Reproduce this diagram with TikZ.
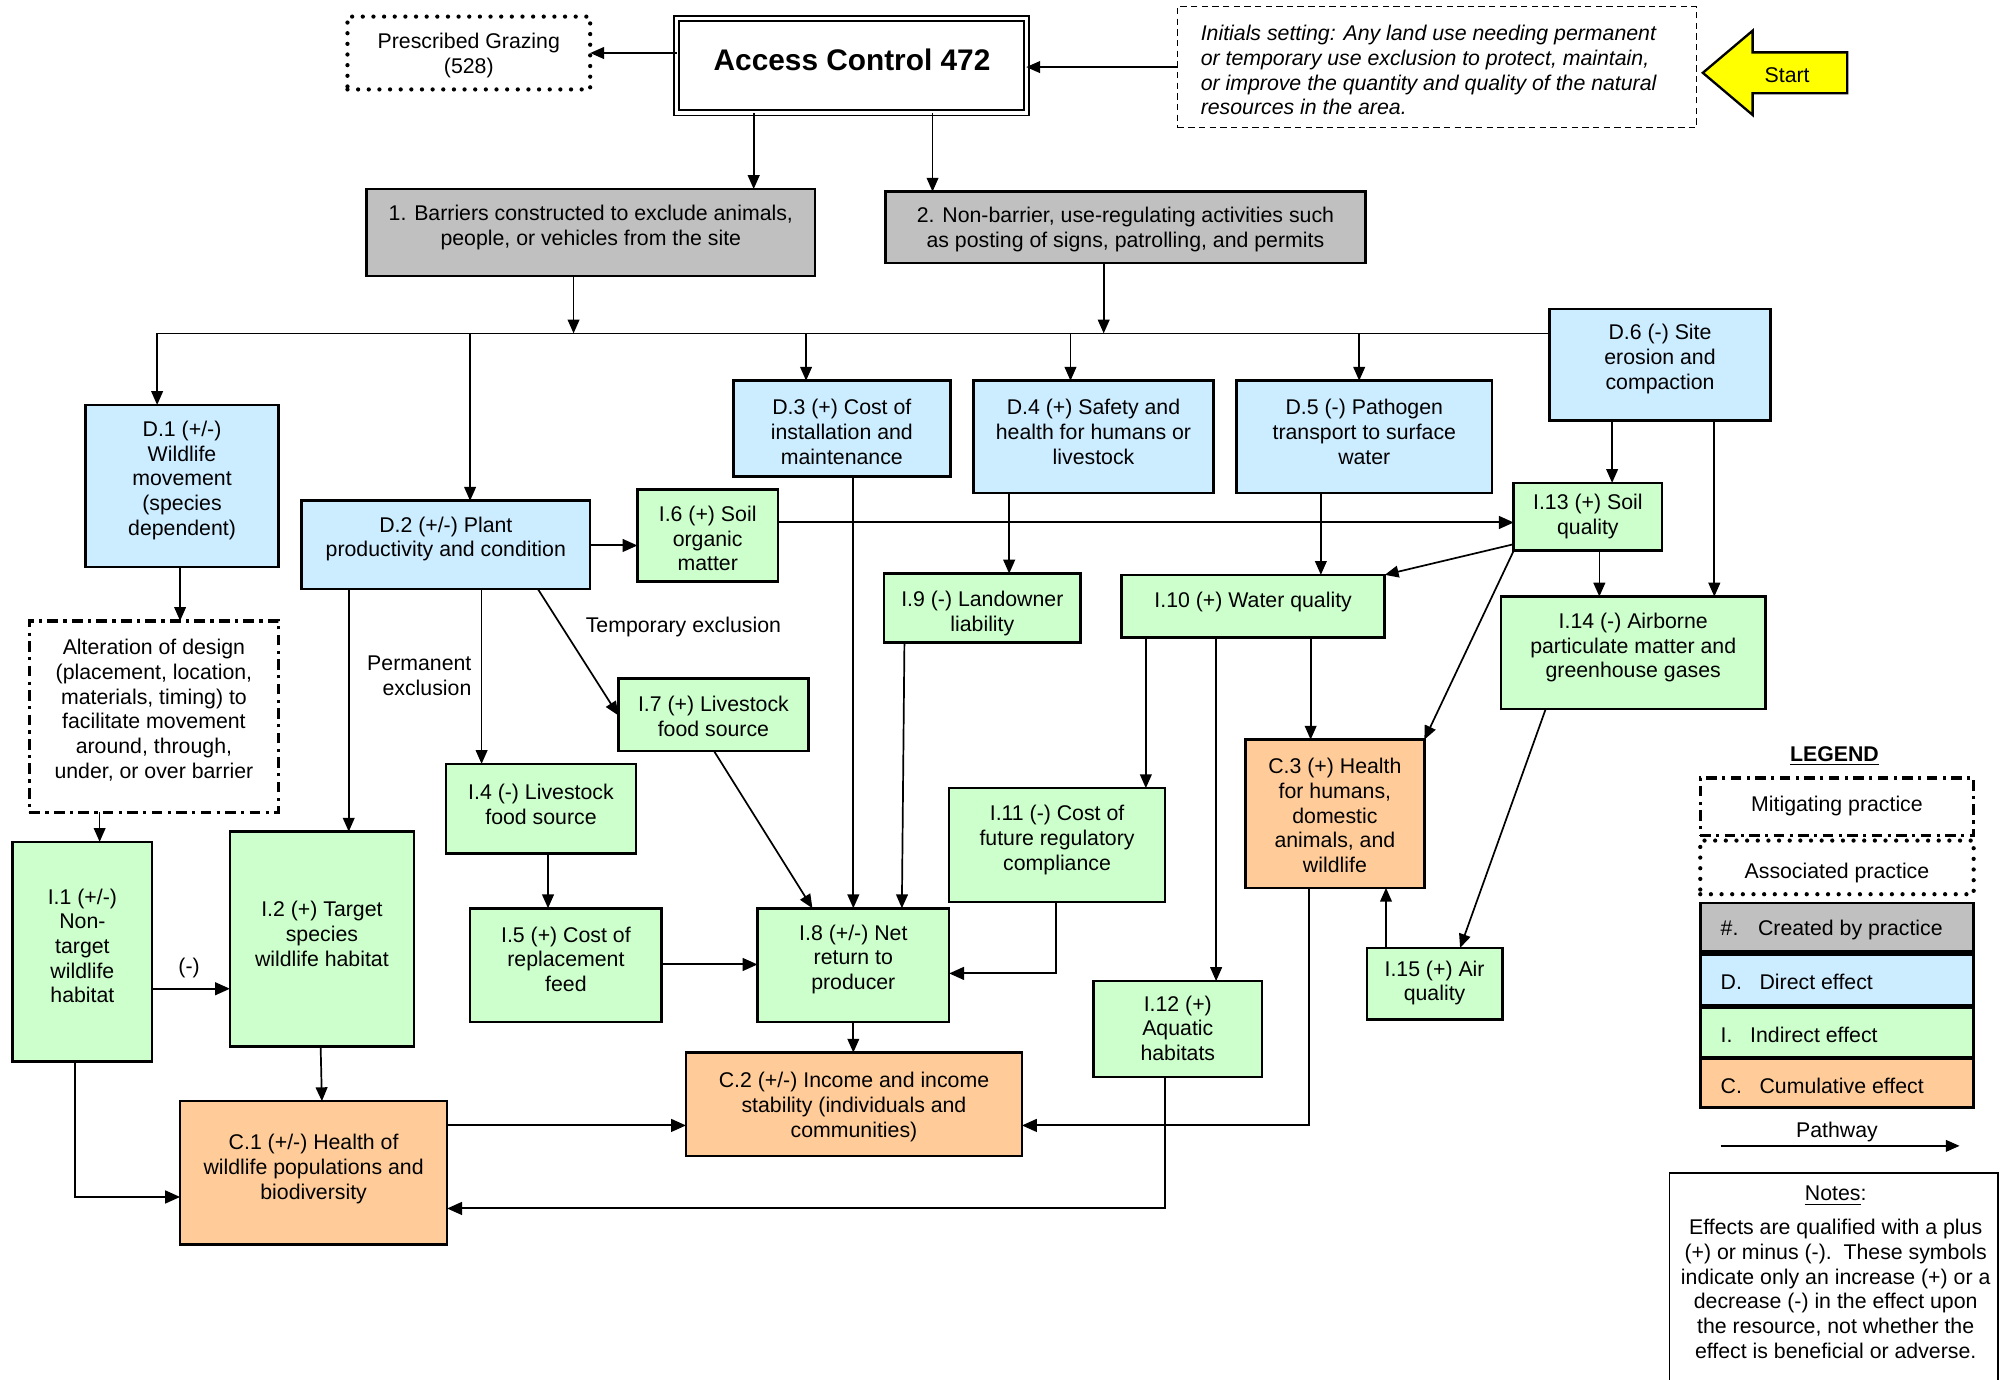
\documentclass[tikz,border=0pt]{standalone}
\usepackage{fontspec}
\setmainfont{Liberation Sans}
\usetikzlibrary{arrows.meta}

\definecolor{createdgrey}{HTML}{C0C0C0}
\definecolor{directblue}{HTML}{CCECFF}
\definecolor{indirectgreen}{HTML}{CCFFCC}
\definecolor{cumulorange}{HTML}{FFCC99}
\definecolor{startyellow}{HTML}{FFFF00}

\tikzset{
  every node/.style={font=\fontsize{10}{11.6}\selectfont, inner sep=0pt, outer sep=0pt},
  box/.style={draw, line width=1.2pt},
  created/.style={box, fill=createdgrey},
  direct/.style={box, fill=directblue},
  indirect/.style={box, fill=indirectgreen},
  cumul/.style={box, fill=cumulorange},
  mitig/.style={draw, line width=1.6pt, dash pattern=on 5pt off 2.5pt on 1.5pt off 2.5pt},
  assoc/.style={draw, line width=2pt, line cap=round, dash pattern=on 0pt off 5pt},
  initbox/.style={draw, line width=0.6pt, dash pattern=on 3pt off 2pt},
  lower/.style={yshift=-1.2pt},
  txt/.style={align=center, lower},
  conn/.style={line width=0.8pt},
  arr/.style={conn, -{Triangle[length=6.5pt,width=5.5pt]}},
  arrbig/.style={line width=0.95pt, -{Triangle[length=7pt,width=6pt]}},
}

% box node from its corners, with its text block centred at a given height
\newcommand{\ebox}[8]{%
  \node[#2, minimum width={(#5-#3)*0.6pt}, minimum height={(#6-#4)*0.6pt}]
    (#1) at ({(#3+#5)/2},{(#4+#6)/2}) {};
  \node[txt] (#1t) at ({(#3+#5)/2},#7) {#8};}

% legend swatch with a left-aligned caption
\newcommand{\lbox}[5]{%
  \node[#2, minimum width={214*0.6pt}, minimum height={(#4-#3)*0.6pt}]
    (#1) at (1438,{(#3+#4)/2}) {};
  \node[anchor=west, lower] (#1t) at (1347,{(#3+#4)/2}) {#5};}

\begin{document}
\begin{tikzpicture}[x=0.6pt,y=-0.6pt]
\useasboundingbox (0,0) rectangle (1568,1080);

% ---------- top row ----------
\ebox{pg}{assoc}{272}{13}{462}{70}{41.5}{Prescribed Grazing\\(528)}
\node[draw, line width=0.8pt, double, double distance=1.6pt,
      minimum width={273.7*0.6pt}, minimum height={73.7*0.6pt}] (ac) at (666.5,51.5) {};
\node[font=\fontsize{14}{16.8}\selectfont\bfseries] (act) at (667,46.5) {Access Control 472};
\node[initbox, minimum width={406*0.6pt}, minimum height={95*0.6pt}] (init) at (1125,52.5) {};
\node[align=left, anchor=west, lower, font=\fontsize{10}{11.6}\selectfont\itshape] (initt) at (940,53)
  {Initials setting: Any land use needing permanent\\
   or temporary use exclusion to protect, maintain,\\
   or improve the quantity and quality of the natural\\
   resources in the area.};
\draw[fill=startyellow, line width=1.1pt]
  (1333,57) -- (1372,24) -- (1372,41) -- (1446,41) -- (1446,73) -- (1372,73) -- (1372,90) -- cycle;
\node[lower] (start) at (1399,57) {Start};

% ---------- practice components ----------
\ebox{b1}{created}{287}{148}{638}{216}{176}{1. Barriers constructed to exclude animals,\\people, or vehicles from the site}
\ebox{b2}{created}{693}{150}{1069}{206}{177.5}{2. Non-barrier, use-regulating activities such\\as posting of signs, patrolling, and permits}

% ---------- direct effects ----------
\ebox{d1}{direct}{67}{317}{218}{444}{374}{D.1 (+/-)\\Wildlife\\movement\\(species\\dependent)}
\ebox{d2}{direct}{236}{392}{462}{461}{420}{D.2 (+/-) Plant\\productivity and condition}
\ebox{d3}{direct}{574}{298}{744}{373}{336}{D.3 (+) Cost of\\installation and\\maintenance}
\ebox{d4}{direct}{762}{298}{950}{386}{336}{D.4 (+) Safety and\\health for humans or\\livestock}
\ebox{d5}{direct}{968}{298}{1168}{386}{336}{D.5 (-) Pathogen\\transport to surface\\water}
\ebox{d6}{direct}{1213}{242}{1386}{329}{279}{D.6 (-) Site\\erosion and\\compaction}

% ---------- mitigating practice ----------
\ebox{mit}{mitig}{23}{486}{218}{636}{554}{Alteration of design\\(placement, location,\\materials, timing) to\\facilitate movement\\around, through,\\under, or over barrier}

% ---------- indirect effects ----------
\ebox{i1}{indirect}{10}{659}{119}{831}{738.5}{I.1 (+/-)\\Non-\\target\\wildlife\\habitat}
\ebox{i2}{indirect}{180}{651}{324}{819}{729}{I.2 (+) Target\\species\\wildlife habitat}
\ebox{i4}{indirect}{349}{598}{498}{668}{627.5}{I.4 (-) Livestock\\food source}
\ebox{i5}{indirect}{368}{711}{518}{800}{749}{I.5 (+) Cost of\\replacement\\feed}
\ebox{i6}{indirect}{499}{383}{609}{455}{419.5}{I.6 (+) Soil\\organic\\matter}
\ebox{i7}{indirect}{484}{531}{633}{588}{559}{I.7 (+) Livestock\\food source}
\ebox{i8}{indirect}{593}{711}{743}{800}{749}{I.8 (+/-) Net\\return to\\producer}
\ebox{i9}{indirect}{692}{449}{846}{503}{478}{I.9 (-) Landowner\\liability}
\ebox{i10}{indirect}{878}{450}{1084}{499}{469}{I.10 (+) Water quality}
\ebox{i11}{indirect}{743}{617}{912}{706}{655.5}{I.11 (-) Cost of\\future regulatory\\compliance}
\ebox{i12}{indirect}{856}{768}{988}{843}{803}{I.12 (+)\\Aquatic\\habitats}
\ebox{i13}{indirect}{1185}{378}{1301}{431}{402.5}{I.13 (+) Soil\\quality}
\ebox{i14}{indirect}{1175}{467}{1382}{555}{505}{I.14 (-) Airborne\\particulate matter and\\greenhouse gases}
\ebox{i15}{indirect}{1070}{742}{1176}{798}{767.5}{I.15 (+) Air\\quality}

% ---------- cumulative effects ----------
\ebox{c1}{cumul}{141}{862}{350}{974}{913}{C.1 (+/-) Health of\\wildlife populations and\\biodiversity}
\ebox{c2}{cumul}{537}{824}{800}{905}{864.5}{C.2 (+/-) Income and income\\stability (individuals and\\communities)}
\ebox{c3}{cumul}{975}{579}{1115}{695}{636.5}{C.3 (+) Health\\for humans,\\domestic\\animals, and\\wildlife}

% ---------- pathway labels ----------
\node[align=right, anchor=east, lower] (perm) at (369,527) {Permanent\\exclusion};
\node[lower] (temp) at (535,489) {Temporary exclusion};
\node[lower] (neg) at (148,756) {(-)};

% ---------- connectors ----------
\draw[arr] (init.west) -- (init.west -| ac.east);
\draw[arr] (ac.west |- pg.east) -- (pg.east);
\draw[arr] (ac.south -| 590,0) -- (b1.north -| 590,0);
\draw[arr] (ac.south -| 730,0) -- (b2.north -| 730,0);

\coordinate (busL) at (123,261);
\coordinate (j1) at (449,261);
\coordinate (j2) at (864,261);
\coordinate (bd2) at (368,261);
\coordinate (bd3) at (631,261);
\coordinate (bd4) at (838,261);
\coordinate (bd5) at (1064,261);
\draw[arr] (b1.south -| j1) -- (j1);
\draw[arr] (b2.south -| j2) -- (j2);
\draw[conn] (busL) -- (busL -| d6.west);
\draw[arr] (busL) -- (d1.north -| busL);
\draw[arr] (bd2) -- (d2.north -| bd2);
\draw[arr] (bd3) -- (d3.north -| bd3);
\draw[arr] (bd4) -- (d4.north -| bd4);
\draw[arr] (bd5) -- (d5.north -| bd5);

\draw[arr] (d6.south -| 1262,0) -- (i13.north -| 1262,0);
\draw[arr] (d6.south -| 1342,0) -- (i14.north -| 1342,0);
\draw[arr] (d1.south -| 141,0) -- (mit.north -| 141,0);
\draw[arr] (mit.south -| 78,0) -- (i1.north -| 78,0);

\draw[arrbig] (d2.east |- 0,427) -- (i6.west |- 0,427);
\draw[arrbig] (i6.east |- 0,409) -- (i13.west |- 0,409);
\draw[arr] (d2.south -| 273,0) -- (i2.north -| 273,0);
\draw[arr] (d2.south -| 377,0) -- (i4.north -| 377,0);
\draw[arr] (d2.south -| 421,0) -- (i7.west |- 0,560);

\draw[arr] (d3.south -| 668,0) -- (i8.north -| 668,0);
\draw[arr] (d4.south -| 790,0) -- (i9.north -| 790,0);
\draw[arr] (d5.south -| 1034,0) -- (i10.north -| 1034,0);

\draw[arr] (i13.south -| 1252,0) -- (i14.north -| 1252,0);
\draw[arr] (i13.west |- 0,426) -- (i10.north east);
\draw[arr] (i13.south west) -- (c3.north east);
\draw[arr] (i14.south -| 1210,0) -- (i15.north -| 1143,0);

\draw[arr] (i10.south -| 897,0) -- (i11.north -| 897,0);
\draw[arr] (i10.south -| 952,0) -- (i12.north -| 952,0);
\draw[arr] (i10.south -| 1026,0) -- (c3.north -| 1026,0);

\draw[arr] (i9.south -| 708,0) -- (i8.north -| 706,0);
\draw[arr] (i7.south -| 559,0) -- (i8.north -| 636,0);
\draw[arr] (i4.south -| 429,0) -- (i5.north -| 429,0);
\draw[arrbig] (i5.east |- 0,755) -- (i8.west |- 0,755);
\draw[arrbig] (i11.south -| 827,0) |- (i8.east |- 0,762);
\draw[arr] (i8.south -| 668,0) -- (c2.north -| 668,0);

\draw[arrbig] (c3.south -| 1025,0) |- (c2.east |- 0,881);
\draw[arr] (i15.north -| 1085,0) -- (c3.south -| 1085,0);
\draw[arrbig] (i12.south -| 912,0) |- (c1.east |- 0,946);

\draw[arrbig] (i1.east |- 0,774) -- (i2.west |- 0,774);
\draw[arr] (i2.south -| 251,0) -- (c1.north -| 252,0);
\draw[arrbig] (i1.south -| 59,0) |- (c1.west |- 0,937);
\draw[arrbig] (c1.east |- 0,881) -- (c2.west |- 0,881);

% ---------- legend ----------
\node[lower, font=\fontsize{10}{11.6}\selectfont\bfseries] (legend) at (1436,590) {\underline{LEGEND}};
\ebox{lgmit}{mitig}{1331}{609}{1545}{654}{629}{Mitigating practice}
\ebox{lgassoc}{assoc}{1331}{658}{1545}{700}{681}{Associated practice}
\lbox{lgcre}{created}{707}{745}{\#.\hspace{0.55em} Created by practice}
\lbox{lgdir}{direct}{747}{787}{D.\hspace{0.55em} Direct effect}
\lbox{lgind}{indirect}{789}{828}{I.\hspace{0.55em} Indirect effect}
\lbox{lgcum}{cumul}{829}{867}{C.\hspace{0.55em} Cumulative effect}
\node[lower] (pathway) at (1438,884) {Pathway};
\coordinate (pw1) at (1347,897);
\coordinate (pw2) at (1534,897);
\draw[arr] (pw1) -- (pw2);

% ---------- notes ----------
\draw[line width=0.8pt] (1307,1080) |- (1564,918) -- (1564,1080);
\node[lower] (notesh) at (1437,934) {\underline{Notes}:};
\node[align=center, lower] (notes) at (1437,1007)
  {Effects are qualified with a plus\\
   (+) or minus (-).\ \ These symbols\\
   indicate only an increase (+) or a\\
   decrease (-) in the effect upon\\
   the resource, not whether the\\
   effect is beneficial or adverse.};
\end{tikzpicture}
\end{document}
